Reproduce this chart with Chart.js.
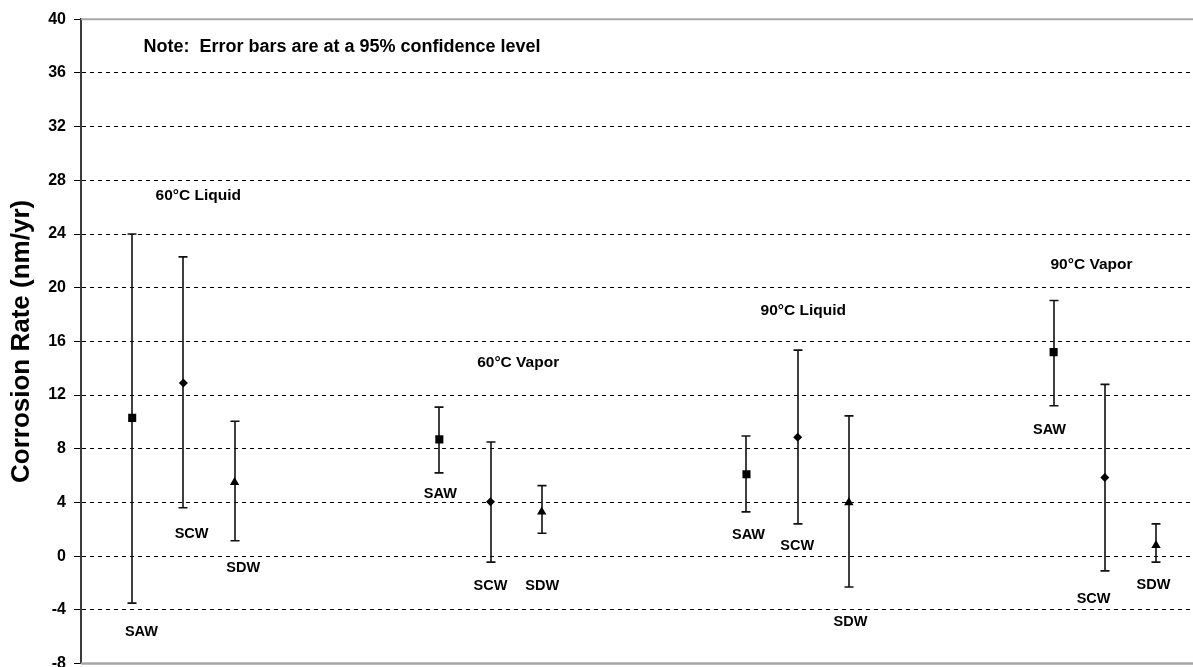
<!DOCTYPE html>
<html>
<head>
<meta charset="utf-8">
<title>Corrosion Rate</title>
<script src="https://cdn.jsdelivr.net/npm/chart.js@4/dist/chart.umd.min.js"></script>
<style>
  html, body { margin: 0; padding: 0; background: #fff; overflow: hidden; }
  #wrap { width: 1215px; height: 690px; }
</style>
</head>
<body>
<div id="wrap"><canvas id="chart" width="1215" height="690"></canvas></div>
<script>
// Test conditions, one group of three specimens each
const categories = ['60°C Liquid', '60°C Vapor', '90°C Liquid', '90°C Vapor'];
const groupStart = [1, 7, 13, 19];
const seriesNames = ['SAW', 'SCW', 'SDW'];

// Mean corrosion rate (nm/yr) and 95% confidence limits per condition
const sawMean = [10.3, 8.7, 6.1, 15.2];
const sawLow  = [-3.5, 6.2, 3.3, 11.2];
const sawHigh = [24.0, 11.1, 8.95, 19.05];

const scwMean = [12.9, 4.05, 8.85, 5.85];
const scwLow  = [3.6, -0.45, 2.4, -1.1];
const scwHigh = [22.3, 8.5, 15.35, 12.8];

const sdwMean = [5.5, 3.3, 4.0, 0.8];
const sdwLow  = [1.15, 1.7, -2.3, -0.45];
const sdwHigh = [10.05, 5.25, 10.45, 2.4];

// Y axis range and tick step
const yMin = -8, yMax = 40, yStep = 4;

// Where the condition captions and specimen names are written (axis units)
const groupLabelX = [2.29, 8.54, 14.11, 19.74];
const groupLabelY = [26.83, 14.39, 18.26, 21.73];
const nameLabelX = [
  [1.18, 2.16, 3.17],
  [7.02, 8.0, 9.01],
  [13.04, 13.99, 15.03],
  [18.92, 19.78, 20.95]
];
const nameLabelY = [
  [-5.66, 1.65, -0.88],
  [4.63, -2.25, -2.25],
  [1.57, 0.75, -4.91],
  [9.4, -3.2, -2.15]
];
const noteText = 'Note:  Error bars are at a 95% confidence level';
const noteX = 1.22, noteY = 37.97;

const FONT = "'Liberation Sans', Arial, sans-serif";

const series = [
  { name: seriesNames[0], mean: sawMean, low: sawLow, high: sawHigh, style: 'rect',    radius: 5.7 },
  { name: seriesNames[1], mean: scwMean, low: scwLow, high: scwHigh, style: 'rectRot', radius: 4.5 },
  { name: seriesNames[2], mean: sdwMean, low: sdwLow, high: sdwHigh, style: 'triangle', radius: 5.4 }
];

const datasets = series.map((s, si) => ({
  label: s.name,
  data: s.mean.map((v, gi) => ({ x: groupStart[gi] + si, y: v })),
  pointStyle: s.style,
  pointRadius: s.radius,
  pointHoverRadius: s.radius,
  pointBackgroundColor: '#000',
  pointBorderColor: '#000',
  pointBorderWidth: 0,
  showLine: false
}));

// Vertical confidence bars with caps, drawn beneath the markers
const errorBars = {
  id: 'errorBars',
  beforeDatasetsDraw(chart) {
    const { ctx, scales: { x, y } } = chart;
    ctx.save();
    ctx.strokeStyle = '#111';
    ctx.lineWidth = 1.6;
    series.forEach((s, si) => {
      s.mean.forEach((_, gi) => {
        const px = Math.round(x.getPixelForValue(groupStart[gi] + si));
        const top = y.getPixelForValue(s.high[gi]);
        const bot = y.getPixelForValue(s.low[gi]);
        ctx.beginPath();
        ctx.moveTo(px, top);
        ctx.lineTo(px, bot);
        ctx.moveTo(px - 4.5, top);
        ctx.lineTo(px + 4.5, top);
        ctx.moveTo(px - 4.5, bot);
        ctx.lineTo(px + 4.5, bot);
        ctx.stroke();
      });
    });
    ctx.restore();
  }
};

// Plot frame lines at the top and bottom of the value range
const frame = {
  id: 'frame',
  beforeDatasetsDraw(chart) {
    const { ctx, chartArea: a, scales: { y } } = chart;
    ctx.save();
    ctx.strokeStyle = '#a6a6a6';
    ctx.lineWidth = 2;
    const t = y.getPixelForValue(yMax);
    ctx.beginPath();
    ctx.moveTo(a.left, t);
    ctx.lineTo(a.right, t);
    ctx.stroke();
    ctx.lineWidth = 2.5;
    const b = y.getPixelForValue(yMin);
    ctx.beginPath();
    ctx.moveTo(a.left, b);
    ctx.lineTo(a.right, b);
    ctx.stroke();
    ctx.restore();
  }
};

// Captions: the note, condition names and specimen names
const captions = {
  id: 'captions',
  afterDraw(chart) {
    const { ctx, scales: { x, y } } = chart;
    ctx.save();
    ctx.fillStyle = '#000';
    ctx.textBaseline = 'middle';

    ctx.font = 'bold 18px ' + FONT;
    ctx.textAlign = 'left';
    ctx.fillText(noteText, x.getPixelForValue(noteX), y.getPixelForValue(noteY));

    ctx.textAlign = 'center';
    ctx.font = 'bold 15.5px ' + FONT;
    categories.forEach((c, gi) => {
      ctx.fillText(c, x.getPixelForValue(groupLabelX[gi]), y.getPixelForValue(groupLabelY[gi]));
    });

    ctx.font = 'bold 14.5px ' + FONT;
    categories.forEach((_, gi) => {
      seriesNames.forEach((n, si) => {
        ctx.fillText(n, x.getPixelForValue(nameLabelX[gi][si]), y.getPixelForValue(nameLabelY[gi][si]));
      });
    });
    ctx.restore();
  }
};

new Chart(document.getElementById('chart'), {
  type: 'scatter',
  data: { datasets },
  plugins: [frame, errorBars, captions],
  options: {
    responsive: false,
    maintainAspectRatio: false,
    animation: false,
    events: [],
    layout: { padding: { top: 19.3, bottom: 26.5, right: 7.8, left: 0 } },
    plugins: { legend: { display: false }, tooltip: { enabled: false } },
    scales: {
      x: {
        type: 'linear',
        display: false,
        min: 0,
        max: 22
      },
      y: {
        min: yMin,
        max: yMax,
        afterFit(scale) { scale.width = 81; },
        ticks: {
          stepSize: yStep,
          padding: 8,
          color: '#000',
          font: { family: FONT, size: 16, weight: 'bold' }
        },
        grid: {
          color: (c) => (c.tick && (c.tick.value === yMax || c.tick.value === yMin)) ? 'rgba(0,0,0,0)' : '#000',
          lineWidth: 1,
          tickLength: 7,
          tickColor: '#000',
          tickWidth: 1,
          tickBorderDash: []
        },
        border: { display: true, color: '#3a3a3a', width: 2, dash: [4, 4] },
        title: {
          display: true,
          text: 'Corrosion Rate (nm/yr)',
          color: '#000',
          font: { family: FONT, size: 26, weight: 'bold' },
          padding: { top: 6, bottom: 0 }
        }
      }
    }
  }
});
</script>
</body>
</html>
